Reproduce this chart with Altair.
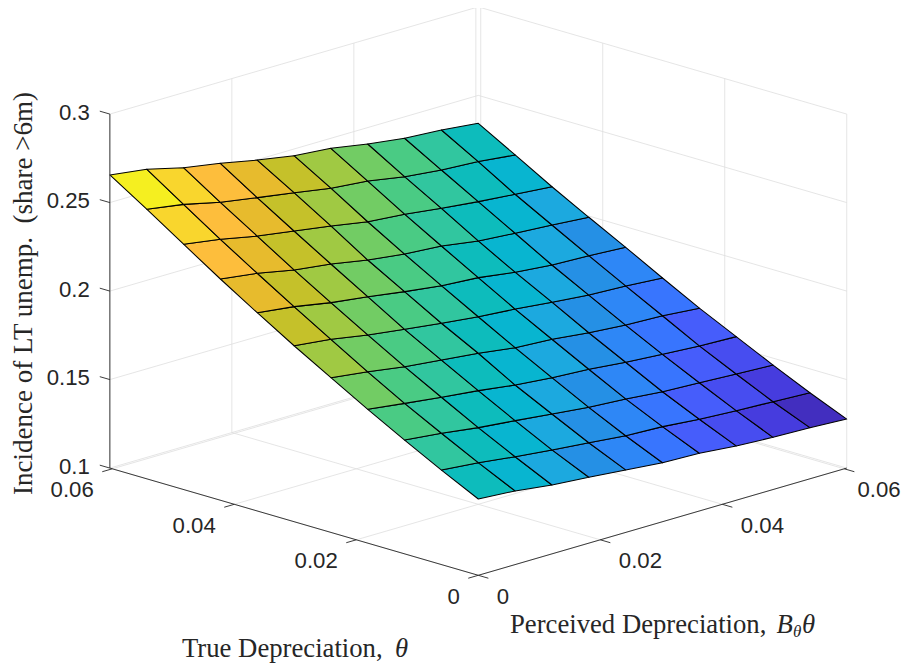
import altair as alt
import pandas as pd

# Grid values
theta_values = [0.0, 0.00604, 0.01208, 0.01812, 0.02416, 0.0302, 0.03624, 0.04228, 0.04832, 0.05436, 0.0604]
perceived_values = [0.0, 0.00604, 0.01208, 0.01812, 0.02416, 0.0302, 0.03624, 0.04228, 0.04832, 0.05436, 0.0604]

# Incidence of LT unemployment: one list per theta, along perceived depreciation
z_theta_00 = [.1431, .1416, .1389, .1372, .1353, .1333, .1326, .1307, .1295, .1289, .1277]
z_theta_01 = [.1534, .1515, .1488, .1466, .1446, .1425, .1416, .1397, .1385, .1375, .1365]
z_theta_02 = [.1643, .1621, .1592, .1571, .1548, .1525, .1512, .1492, .1482, .1471, .1461]
z_theta_03 = [.1756, .1729, .1703, .1680, .1651, .1632, .1619, .1598, .1582, .1569, .1561]
z_theta_04 = [.1874, .1847, .1815, .1792, .1770, .1741, .1728, .1704, .1687, .1679, .1661]
z_theta_05 = [.1994, .1970, .1934, .1905, .1879, .1855, .1838, .1816, .1796, .1787, .1771]
z_theta_06 = [.2120, .2094, .2056, .2029, .1997, .1970, .1955, .1925, .1905, .1897, .1884]
z_theta_07 = [.2250, .2222, .2180, .2153, .2115, .2088, .2073, .2041, .2024, .2010, .1993]
z_theta_08 = [.2386, .2353, .2311, .2279, .2247, .2210, .2192, .2165, .2142, .2123, .2105]
z_theta_09 = [.2523, .2490, .2441, .2407, .2374, .2339, .2319, .2283, .2260, .2247, .2224]
z_theta_10 = [.2656, .2628, .2576, .2540, .2498, .2462, .2443, .2407, .2379, .2365, .2342]
z_rows = [z_theta_00, z_theta_01, z_theta_02, z_theta_03, z_theta_04, z_theta_05,
          z_theta_06, z_theta_07, z_theta_08, z_theta_09, z_theta_10]

# One colour per diagonal band of cells (perceived index minus theta index, -9..9)
band_colors = ["#f5ef20", "#f9d62d", "#fdbe3c", "#e7bb2d", "#c5c12a", "#a0c943", "#72cc64",
               "#4acb84", "#31c69f", "#0dbcbc", "#08b5d0", "#1ca9df", "#2590e5", "#2e87f6",
               "#3875fe", "#465dfb", "#474df0", "#463cde", "#422ebf"]

horizontal_ticks = [0.0, 0.02, 0.04, 0.06]
horizontal_labels = ["0", "0.02", "0.04", "0.06"]
z_ticks = [0.1, 0.15, 0.2, 0.25, 0.3]
z_labels = ["0.1", "0.15", "0.2", "0.25", "0.3"]
h_max = 0.0604
z_min, z_max = 0.1, 0.3

W, H = 894, 655
INK = "#262626"
GRID = "#dedede"


def project(theta, perceived, z):
    """Orthographic view of the 3-D axes, in chart coordinates."""
    sx = 470.3 + 6100 * (perceived - theta)
    sy = 567.3 - 1775 * (theta + perceived) - 1770 * (z - z_min)
    return sx, sy


xs = alt.Scale(domain=[0, W], range=[0, W], nice=False, zero=False)
ys = alt.Scale(domain=[0, H], range=[0, H], nice=False, zero=False)
X = alt.X("x:Q", scale=xs, axis=None)
Y = alt.Y("y:Q", scale=ys, axis=None)

# Surface cells
rows = []
for j in range(10):
    for i in range(10):
        corners = [(i, j), (i + 1, j), (i + 1, j + 1), (i, j + 1)]
        for k, (a, b) in enumerate(corners):
            sx, sy = project(theta_values[b], perceived_values[a], z_rows[b][a])
            rows.append({"cell": f"{j}_{i}", "k": k, "band": i - j, "x": sx, "y": sy})
surface = (
    alt.Chart(pd.DataFrame(rows))
    .mark_line(interpolate="linear-closed", filled=True, stroke="black", strokeWidth=1.05, strokeJoin="round")
    .encode(
        x=X, y=Y,
        fill=alt.Fill("band:O", scale=alt.Scale(domain=list(range(-9, 10)), range=band_colors), legend=None),
        detail="cell:N",
        order=alt.Order("k:Q"),
    )
)


def seg(p, q):
    x1, y1 = project(*p)
    x2, y2 = project(*q)
    return {"x": x1, "y": y1, "x2": x2, "y2": y2}


grid = []
for v in horizontal_ticks:
    # walls: verticals
    grid.append(seg((h_max, v, z_min), (h_max, v, z_max)))
    grid.append(seg((v, h_max, z_min), (v, h_max, z_max)))
    # floor
    grid.append(seg((0, v, z_min), (h_max, v, z_min)))
    grid.append(seg((v, 0, z_min), (v, h_max, z_min)))
for z in z_ticks:
    grid.append(seg((h_max, 0, z), (h_max, h_max, z)))
    grid.append(seg((0, h_max, z), (h_max, h_max, z)))

axes = [
    seg((h_max, 0, z_min), (h_max, 0, z_max)),
    seg((0, 0, z_min), (h_max, 0, z_min)),
    seg((0, 0, z_min), (0, h_max, z_min)),
]
TICK_T = 0.00165
for v in horizontal_ticks:
    axes.append(seg((v, 0, z_min), (v, -TICK_T, z_min)))
    axes.append(seg((0, v, z_min), (-TICK_T, v, z_min)))
for z in z_ticks:
    axes.append(seg((h_max, 0, z), (h_max + TICK_T, 0, z)))


def rules(data, color, width):
    return (
        alt.Chart(pd.DataFrame(data))
        .mark_rule(color=color, strokeWidth=width)
        .encode(x=X, y=Y, x2="x2:Q", y2="y2:Q")
    )


def texts(data, font, size, align="left", baseline="alphabetic", style="normal", angle=0):
    return (
        alt.Chart(pd.DataFrame(data))
        .mark_text(font=font, fontSize=size, align=align, baseline=baseline,
                   fontStyle=style, angle=angle, color=INK)
        .encode(x=X, y=Y, text="t:N")
    )


LBL_DX, LBL_DY = 18.5, 21.5
left_ticks, right_ticks, z_tick_text = [], [], []
for v, s in zip(horizontal_ticks, horizontal_labels):
    sx, sy = project(v, 0, z_min)
    left_ticks.append({"t": s, "x": sx - LBL_DX, "y": sy + LBL_DY})
    sx, sy = project(0, v, z_min)
    # the last label is kept just inside the drawing's right edge
    right_ticks.append({"t": s, "x": min(sx + LBL_DX, W - 44.5), "y": sy + LBL_DY})
for z, s in zip(z_ticks, z_labels):
    sx, sy = project(h_max, 0, z)
    z_tick_text.append({"t": s, "x": sx - 20, "y": sy - 1.5})

SANS = "Liberation Sans"
SERIF = "Liberation Serif"
LABEL = 26.7
TICK = 22.2
layers = [
    rules(grid, GRID, 0.8),
    surface,
    rules(axes, INK, 0.9),
    texts(left_ticks, SANS, TICK, "right", "middle"),
    texts(right_ticks, SANS, TICK, "left", "middle"),
    texts(z_tick_text, SANS, TICK, "right", "middle"),
    texts([{"t": "True Depreciation,", "x": 174, "y": 648.5}], SERIF, LABEL),
    texts([{"t": "θ", "x": 387, "y": 648.5}], SERIF, LABEL, style="italic"),
    texts([{"t": "Perceived Depreciation,", "x": 502, "y": 624.7}], SERIF, LABEL),
    texts([{"t": "B", "x": 768.5, "y": 624.7}], SERIF, LABEL, style="italic"),
    texts([{"t": "θ", "x": 785, "y": 629}], SERIF, 17, style="italic"),
    texts([{"t": "θ", "x": 794, "y": 624.7}], SERIF, LABEL, style="italic"),
    texts([{"t": "Incidence of LT unemp.\u00a0\u00a0(share >6m)", "x": 24, "y": 285.5}], SERIF, 27,
          align="center", angle=270),
]

chart = (
    alt.layer(*layers)
    .properties(width=W, height=H, padding=0, autosize=alt.AutoSizeParams(type="none"),
                background="white")
    .configure_view(stroke=None)
)
chart.save("out.html", embed_options={"renderer": "svg", "actions": False})
